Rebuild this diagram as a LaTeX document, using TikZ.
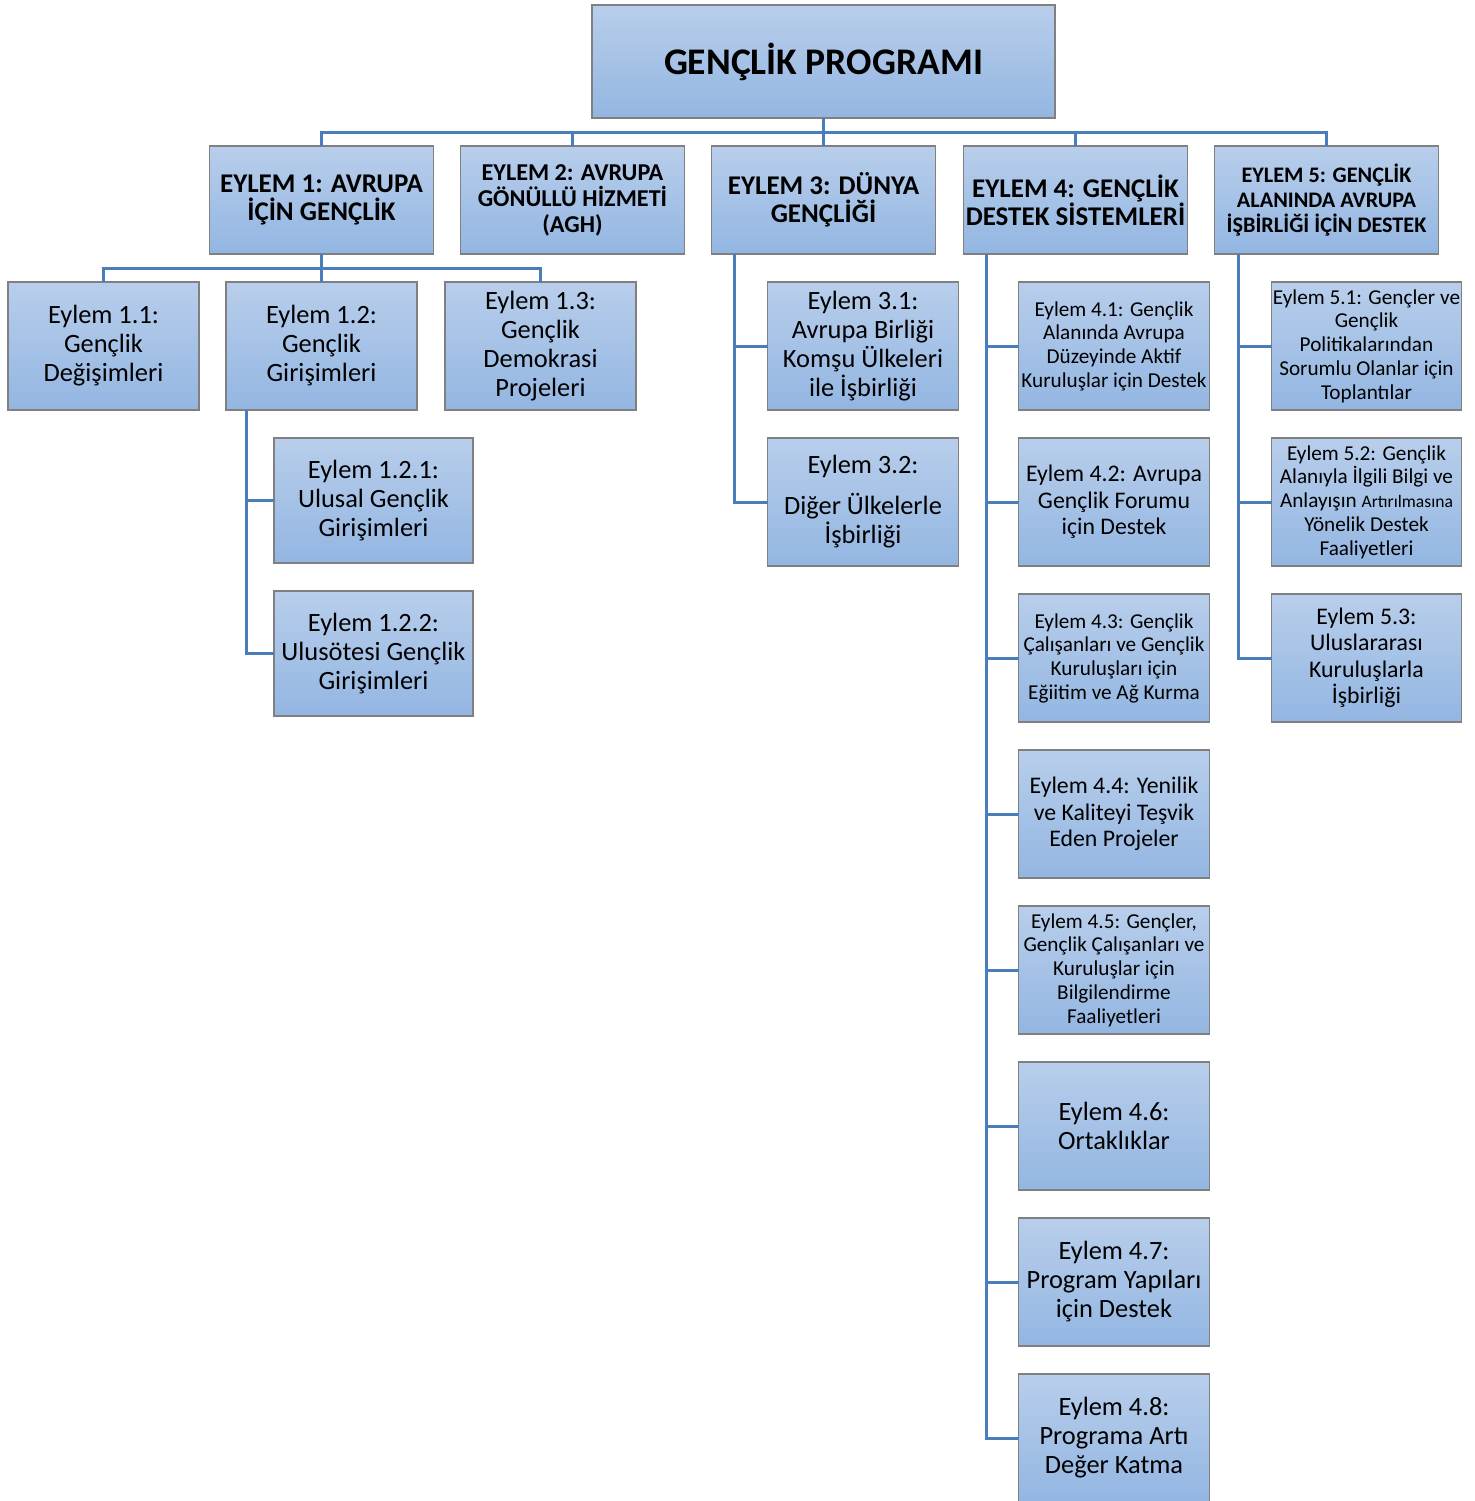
\documentclass[tikz,border=0pt]{standalone}
\usepackage{fontspec}
\setmainfont{Carlito}
\usetikzlibrary{positioning}
\definecolor{boxtop}{RGB}{184,206,235}
\definecolor{boxbot}{RGB}{147,182,226}
\definecolor{boxline}{RGB}{128,128,128}
\definecolor{linkblue}{RGB}{74,126,187}
\tikzstyle{box}=[rectangle, draw=boxline, line width=0.6pt, top color=boxtop, bottom color=boxbot, align=center, inner sep=0.5pt, outer sep=0pt]
\tikzstyle{program}=[box, minimum width=231.5pt, minimum height=56.5pt, font=\fontsize{18.8}{23}\selectfont\bfseries]
\tikzstyle{action}=[box, minimum width=112pt, minimum height=54pt, font=\fontsize{13.5}{14}\selectfont\bfseries]
\tikzstyle{actionsm}=[action, font=\fontsize{12.1}{13}\selectfont\bfseries]
\tikzstyle{actionxs}=[action, font=\fontsize{11.1}{12.5}\selectfont\bfseries]
\tikzstyle{sub}=[box, minimum width=95.5pt, minimum height=64pt, font=\fontsize{13.2}{14.5}\selectfont]
\tikzstyle{submd}=[sub, font=\fontsize{11.9}{13.25}\selectfont]
\tikzstyle{subsm}=[sub, font=\fontsize{10.6}{11.85}\selectfont]
\tikzstyle{deep}=[sub, minimum width=99.5pt, minimum height=62.5pt]
\tikzstyle{link}=[draw=linkblue, line width=1.5pt]

\begin{document}
\begin{tikzpicture}[x=0.5pt, y=-0.5pt]
    \useasboundingbox (0,0) rectangle (1475,1501);
    % top
    \node[program] (prog) at (823.5,61.5) {GENÇLİK PROGRAMI};

    % actions
    \node[action, below=14pt of prog] (e3) {EYLEM 3: DÜNYA\\GENÇLİĞİ};
    \node[actionsm, left=13.5pt of e3] (e2) {EYLEM 2: AVRUPA\\GÖNÜLLÜ HİZMETİ\\(AGH)};
    \node[action, left=13.5pt of e2] (e1) {EYLEM 1: AVRUPA\\İÇİN GENÇLİK};
    \node[action, right=14pt of e3] (e4) {EYLEM 4: GENÇLİK\\DESTEK SİSTEMLERİ};
    \node[actionxs, right=13.5pt of e4] (e5) {EYLEM 5: GENÇLİK\\ALANINDA AVRUPA\\İŞBİRLİĞİ İÇİN DESTEK};

    % action 1
    \node[sub, below=14pt of e1] (a12) {Eylem 1.2:\\Gençlik\\Girişimleri};
    \node[sub, left=13.5pt of a12] (a11) {Eylem 1.1:\\Gençlik\\Değişimleri};
    \node[sub, right=14pt of a12] (a13) {Eylem 1.3:\\Gençlik\\Demokrasi\\Projeleri};
    \node[deep, anchor=north west] (a121) at ([xshift=24pt,yshift=-14pt]a12.south west) {Eylem 1.2.1:\\Ulusal Gençlik\\Girişimleri};
    \node[deep, below=14pt of a121] (a122) {Eylem 1.2.2:\\Ulusötesi Gençlik\\Girişimleri};

    % action 3
    \node[sub, anchor=north west] (a31) at ([xshift=28pt,yshift=-14pt]e3.south west) {Eylem 3.1:\\Avrupa Birliği\\Komşu Ülkeleri\\ile İşbirliği};
    \node[sub, below=14pt of a31] (a32) {Eylem 3.2:\\[6pt]Diğer Ülkelerle\\İşbirliği};

    % action 4
    \node[subsm, anchor=north west] (a41) at ([xshift=27.5pt,yshift=-14pt]e4.south west) {Eylem 4.1: Gençlik\\Alanında Avrupa\\Düzeyinde Aktif\\Kuruluşlar için Destek};
    \node[submd, below=14pt of a41] (a42) {Eylem 4.2: Avrupa\\Gençlik Forumu\\için Destek};
    \node[subsm, below=14pt of a42] (a43) {Eylem 4.3: Gençlik\\Çalışanları ve Gençlik\\Kuruluşları için\\Eğiitim ve Ağ Kurma};
    \node[submd, below=14pt of a43] (a44) {Eylem 4.4: Yenilik\\ve Kaliteyi Teşvik\\Eden Projeler};
    \node[subsm, below=14pt of a44] (a45) {Eylem 4.5: Gençler,\\Gençlik Çalışanları ve\\Kuruluşlar için\\Bilgilendirme\\Faaliyetleri};
    \node[sub, below=14pt of a45] (a46) {Eylem 4.6:\\Ortaklıklar};
    \node[sub, below=14pt of a46] (a47) {Eylem 4.7:\\Program Yapıları\\için Destek};
    \node[sub, below=14pt of a47] (a48) {Eylem 4.8:\\Programa Artı\\Değer Katma};

    % action 5
    \node[subsm, minimum width=95pt, anchor=north west] (a51) at ([xshift=28.5pt,yshift=-14pt]e5.south west) {Eylem 5.1: Gençler ve\\Gençlik\\Politikalarından\\Sorumlu Olanlar için\\Toplantılar};
    \node[subsm, minimum width=95pt, below=14pt of a51] (a52) {Eylem 5.2: Gençlik\\Alanıyla İlgili Bilgi ve\\Anlayışın {\fontsize{8.8}{9}\selectfont Artırılmasına}\\Yönelik Destek\\Faaliyetleri};
    \node[submd, minimum width=95pt, below=14pt of a52] (a53) {Eylem 5.3:\\Uluslararası\\Kuruluşlarla\\İşbirliği};

    % connectors
    \foreach \e in {e1,e2,e3,e4,e5}
        \draw[link] (prog.south) -- ++(0,14) -| (\e.north);
    \foreach \a in {a11,a12,a13}
        \draw[link] (e1.south) -- ++(0,14) -| (\a.north);
    \foreach \a in {a121,a122}
        \draw[link] ([xshift=10pt]a12.south west) |- (\a.west);
    \foreach \a in {a31,a32}
        \draw[link] ([xshift=11.5pt]e3.south west) |- (\a.west);
    \foreach \a in {a41,a42,a43,a44,a45,a46,a47,a48}
        \draw[link] ([xshift=11.5pt]e4.south west) |- (\a.west);
    \foreach \a in {a51,a52,a53}
        \draw[link] ([xshift=12pt]e5.south west) |- (\a.west);
\end{tikzpicture}
\end{document}
